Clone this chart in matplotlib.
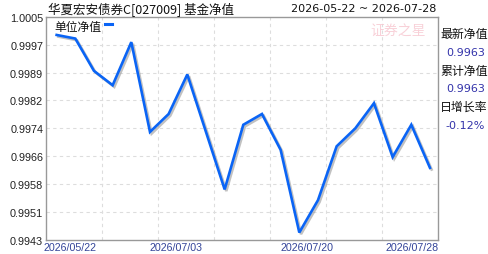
import matplotlib
matplotlib.use("Agg")
import matplotlib.pyplot as plt
import matplotlib.patheffects as pe
from matplotlib.transforms import ScaledTranslation, blended_transform_factory

# ---- data ----
nav_values = [1.0000, 0.9999, 0.9990, 0.9986, 0.9998, 0.9973, 0.9978, 0.9989,
              0.9973, 0.9957, 0.9975, 0.9978, 0.9968, 0.9945, 0.9954, 0.9969,
              0.9974, 0.9981, 0.9966, 0.9975, 0.9963]
xtick_idx = [0, 6, 13, 20]
xtick_labels = ["2026/05/22", "2026/07/03", "2026/07/20", "2026/07/28"]
ytick_vals = [0.9943, 0.99508, 0.99585, 0.99663, 0.9974, 0.99818, 0.99895, 0.99973, 1.0005]
ytick_labels = ["0.9943", "0.9951", "0.9958", "0.9966", "0.9974", "0.9982", "0.9989", "0.9997", "1.0005"]
title_text = "华夏宏安债券C[027009] 基金净值"
range_text = "2026-05-22 ~ 2026-07-28"
legend_label = "单位净值"
side_labels = ["最新净值", "累计净值", "日增长率"]
side_values = ["0.9963", "0.9963", "-0.12%"]

CJK = ["Noto Sans CJK SC", "DejaVu Sans"]

fig = plt.figure(figsize=(4.88, 2.55), dpi=100)
W, H = 488, 255
L, R, T, B = 46, 438, 18, 240.7
ax = fig.add_axes([L / W, 1 - B / H, (R - L) / W, (B - T) / H])

x = list(range(len(nav_values)))
ax.plot(x, nav_values, color="#0a64f5", lw=1.9, solid_joinstyle="miter",
        path_effects=[pe.SimpleLineShadow(offset=(1.2, -1.2), shadow_color="#999999", alpha=0.6),
                      pe.Normal()], zorder=3)

ax.set_xlim(-0.57, 20.43)
ax.set_ylim(ytick_vals[0], ytick_vals[-1])

# grid
ax.set_yticks(ytick_vals)
ax.set_yticklabels(ytick_labels, fontfamily="Liberation Sans", fontsize=7.8, color="#222222")
for v in ytick_vals[1:-1]:
    ax.axhline(v, color="#dddddd", lw=0.8, ls=(0, (3, 3)), zorder=1)
vgrid = [2.43, 5.43, 8.43, 11.43, 14.43, 17.43]
for g in vgrid:
    ax.axvline(g, color="#dddddd", lw=0.8, ls=(0, (3, 3)), zorder=1)

ax.tick_params(axis="both", length=0, pad=2)
ax.set_xticks([])
for s in ax.spines.values():
    s.set_color("#999999")
    s.set_linewidth(1.0)

# x tick labels
tb = blended_transform_factory(ax.transData, ax.transAxes)
for i, (idx, lab) in enumerate(zip(xtick_idx, xtick_labels)):
    if i == 0:
        ax.text(0.0, -0.012, lab, transform=ax.transAxes + ScaledTranslation(-2 / 100, 0, fig.dpi_scale_trans),
                ha="left", va="top", fontsize=7.7, color="#334499", fontfamily="Liberation Sans")
    elif i == len(xtick_idx) - 1:
        ax.text(1.0, -0.012, lab, transform=ax.transAxes + ScaledTranslation(1 / 100, 0, fig.dpi_scale_trans),
                ha="right", va="top", fontsize=7.7, color="#334499", fontfamily="Liberation Sans")
    else:
        ax.text(idx, -0.012, lab, transform=tb + ScaledTranslation(7.5 / 100, 0, fig.dpi_scale_trans),
                ha="center", va="top", fontsize=7.7, color="#334499", fontfamily="Liberation Sans")

# title + range
fig.text(48 / W, 1 - 9.5 / H, title_text, ha="left", va="center", fontsize=9.0,
         family=CJK, color="#111111")
fig.text(436 / W, 1 - 9.5 / H, range_text, ha="right", va="center", fontsize=8.0,
         family="DejaVu Sans", color="#111111")

# legend
ax.text(54 / W, 1 - 27 / H, legend_label, transform=fig.transFigure, ha="left", va="center",
        fontsize=8.5, family=CJK, color="#111111")
fig.add_artist(plt.Line2D([105 / W, 111.5 / W], [1 - 24.5 / H, 1 - 24.5 / H], color="#0a64f5", lw=2.2))

# watermark
fig.text(398 / W, 1 - 32 / H, "证券之星", ha="center", va="center", fontsize=10,
         family=CJK, color="#f7c6cf", alpha=0.8)

# side panel
ys = [35, 71, 107]
yv = [53, 89, 126]
for lab, val, y1, y2 in zip(side_labels, side_values, ys, yv):
    fig.text(440 / W, 1 - y1 / H, lab, ha="left", va="center", fontsize=8.6, family=CJK, color="#111111")
    fig.text(485 / W, 1 - y2 / H, val, ha="right", va="center", fontsize=8, family="DejaVu Sans", color="#3333aa")

fig.savefig("out.png", dpi=100)
